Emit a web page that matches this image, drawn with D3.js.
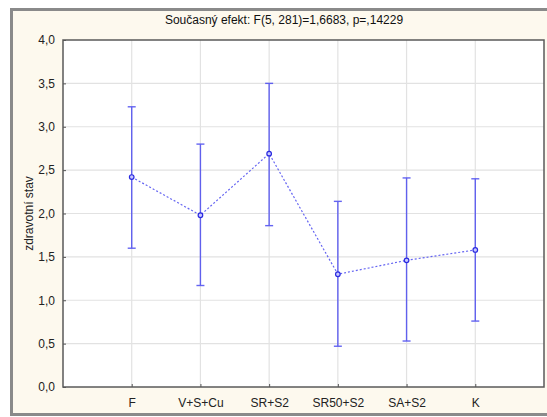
<!DOCTYPE html>
<html>
<head>
<meta charset="utf-8">
<style>
  body { margin: 0; background: #fff; }
  svg { display: block; font-family: "Liberation Sans", Arial, sans-serif; }
</style>
</head>
<body>
<script src="https://cdn.jsdelivr.net/npm/d3@7"></script>
<script>
var groups = ["F", "V+S+Cu", "SR+S2", "SR50+S2", "SA+S2", "K"];
var means  = [2.42, 1.98, 2.69, 1.30, 1.46, 1.58];
var upper  = [3.23, 2.80, 3.50, 2.14, 2.41, 2.40];
var lower  = [1.60, 1.17, 1.86, 0.47, 0.53, 0.76];
var yTicks = [0, 0.5, 1, 1.5, 2, 2.5, 3, 3.5, 4];

var width = 547, height = 417;
var margin = {top: 40, right: 3, bottom: 30, left: 63};
var innerW = width - margin.left - margin.right,
    innerH = 387 - margin.top;

var svg = d3.select("body").append("svg")
    .attr("width", width)
    .attr("height", height);

// cream frame
svg.append("rect")
    .attr("x", 11.5).attr("y", 9.5)
    .attr("width", 560).attr("height", 405)
    .attr("fill", "#fdf9ee")
    .attr("stroke", "#8a8a8a")
    .attr("stroke-width", 3);

svg.append("text")
    .attr("x", 284).attr("y", 24)
    .attr("text-anchor", "middle")
    .attr("font-size", 12)
    .attr("fill", "#111")
    .text("Současný efekt: F(5, 281)=1,6683, p=,14229");

var g = svg.append("g").attr("transform", "translate(" + margin.left + "," + margin.top + ")");

var x = d3.scalePoint().domain(groups).range([0, innerW]).padding(1);
var y = d3.scaleLinear().domain([0, 4]).range([innerH, 0]);

g.append("rect")
    .attr("width", innerW).attr("height", innerH)
    .attr("fill", "#fff");

// grid
g.selectAll(".hgrid").data(yTicks.slice(1, -1)).enter().append("line")
    .attr("x1", 0).attr("x2", innerW)
    .attr("y1", function(d) { return y(d); }).attr("y2", function(d) { return y(d); })
    .attr("stroke", "#e2e2e2").attr("stroke-width", 1.2);
g.selectAll(".vgrid").data(groups).enter().append("line")
    .attr("y1", 0).attr("y2", innerH)
    .attr("x1", function(d) { return x(d); }).attr("x2", function(d) { return x(d); })
    .attr("stroke", "#e2e2e2").attr("stroke-width", 1.2);

// axes
var yAxis = g.append("g")
    .call(d3.axisLeft(y).tickValues(yTicks).tickSize(-3).tickPadding(8)
        .tickFormat(function(d) { return d3.format(".1f")(d).replace(".", ","); }));
var xAxis = g.append("g")
    .attr("transform", "translate(0," + innerH + ")")
    .call(d3.axisBottom(x).tickSize(-3).tickPadding(11));
[yAxis, xAxis].forEach(function(a) {
    a.select(".domain").remove();
    a.selectAll("line").attr("stroke", "#555");
    a.selectAll("text").attr("font-size", 12).attr("fill", "#222")
        .attr("font-family", "'Liberation Sans', Arial, sans-serif");
});

svg.append("text")
    .attr("transform", "translate(33," + (margin.top + innerH / 2) + ") rotate(-90)")
    .attr("text-anchor", "middle")
    .attr("font-size", 12)
    .attr("fill", "#222")
    .text("zdravotní stav");

var blue = "#4a4af0";

// dashed connecting line
g.append("path")
    .datum(groups)
    .attr("fill", "none")
    .attr("stroke", blue)
    .attr("stroke-width", 1.2)
    .attr("stroke-dasharray", "2,2")
    .attr("opacity", 0.85)
    .attr("d", d3.line()
        .x(function(d) { return x(d); })
        .y(function(d, i) { return y(means[i]); }));

// error bars
var bars = g.selectAll(".bar").data(groups).enter().append("g")
    .attr("stroke", blue).attr("stroke-width", 1.4).attr("opacity", 0.85);
bars.append("line")
    .attr("x1", function(d) { return x(d); }).attr("x2", function(d) { return x(d); })
    .attr("y1", function(d, i) { return y(upper[i]); })
    .attr("y2", function(d, i) { return y(lower[i]); });
bars.append("line")
    .attr("x1", function(d) { return x(d) - 4; }).attr("x2", function(d) { return x(d) + 4; })
    .attr("y1", function(d, i) { return y(upper[i]); })
    .attr("y2", function(d, i) { return y(upper[i]); });
bars.append("line")
    .attr("x1", function(d) { return x(d) - 4; }).attr("x2", function(d) { return x(d) + 4; })
    .attr("y1", function(d, i) { return y(lower[i]); })
    .attr("y2", function(d, i) { return y(lower[i]); });

g.selectAll(".pt").data(groups).enter().append("circle")
    .attr("cx", function(d) { return x(d); })
    .attr("cy", function(d, i) { return y(means[i]); })
    .attr("r", 2.3)
    .attr("fill", "#c8c8ff")
    .attr("stroke", "#2a2ae0")
    .attr("stroke-width", 1.2);

// plot border
g.append("rect")
    .attr("width", innerW).attr("height", innerH)
    .attr("fill", "none")
    .attr("stroke", "#5a5a5a")
    .attr("stroke-width", 1.5);
</script>
</body>
</html>
